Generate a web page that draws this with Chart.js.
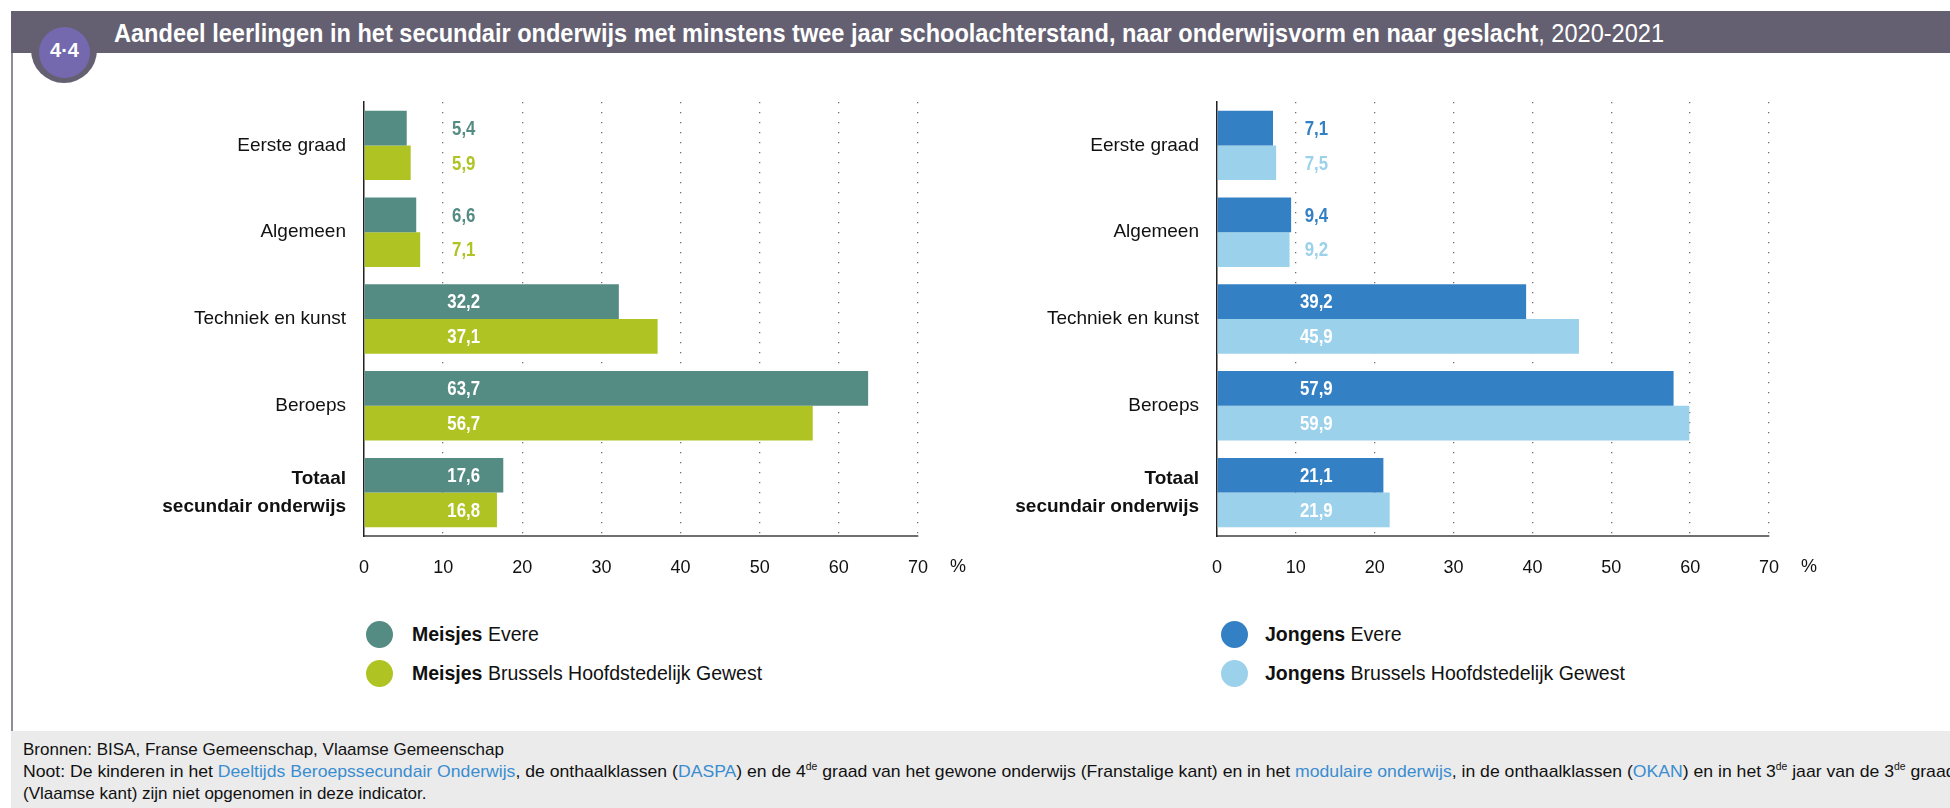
<!DOCTYPE html>
<html>
<head>
<meta charset="utf-8">
<script src="https://cdn.jsdelivr.net/npm/chart.js@4.4.1/dist/chart.umd.min.js"></script>
<style>
  html, body { margin:0; padding:0; background:#fff; }
  body { width:1950px; height:808px; position:relative; overflow:hidden; font-family:"Liberation Sans", Arial, sans-serif; }
  #header { position:absolute; left:11px; top:11px; width:1939px; height:42px; background:#646072; }
  #leftline { position:absolute; left:11px; top:53px; width:2px; height:678px; background:#8e8c9b; }
  #badgeOuter { position:absolute; left:31px; top:17px; width:66px; height:66px; border-radius:50%; background:#646072; }
  #badgeInner { position:absolute; left:39px; top:27px; width:51px; height:51px; border-radius:50%; background:#7468ae; }
  #badgeText { position:absolute; left:39px; top:27px; width:51px; height:46px; line-height:46px; text-align:center; color:#fff; font-weight:bold; font-size:20px; }
  #title { position:absolute; left:114px; top:16px; height:34px; line-height:34px; color:#fff; font-size:25px; white-space:nowrap; transform-origin:left center; }
  #title b { font-weight:bold; }
  canvas { position:absolute; top:0; }
  .legend { position:absolute; font-size:19.5px; color:#111; white-space:nowrap; }
  .legend .dot { position:absolute; width:27px; height:27px; border-radius:50%; }
  .legend .txt { position:absolute; white-space:nowrap; line-height:24px; }
  #footer { position:absolute; left:11px; top:731px; width:1939px; height:77px; background:#ebebeb; overflow:hidden; }
  #footer .line { position:absolute; left:12px; white-space:nowrap; font-size:17px; color:#111; transform-origin:left center; }
  #footer a { color:#3a8dd0; text-decoration:none; }
  #footer sup { font-size:10px; vertical-align:0; position:relative; top:-7px; }
</style>
</head>
<body>
<div id="header"></div>
<div id="leftline"></div>
<div id="badgeOuter"></div>
<div id="badgeInner"></div>
<div id="badgeText">4·4</div>
<div id="title"><b>Aandeel leerlingen in het secundair onderwijs met minstens twee jaar schoolachterstand, naar onderwijsvorm en naar geslacht</b>, 2020-2021</div>

<canvas id="left" width="975" height="600" style="left:0px"></canvas>
<canvas id="right" width="975" height="600" style="left:975px"></canvas>

<div class="legend" id="legL" style="left:0;top:0"></div>
<div class="legend" id="legR" style="left:0;top:0"></div>

<div id="footer">
  <div class="line" style="top:9px">Bronnen: BISA, Franse Gemeenschap, Vlaamse Gemeenschap</div>
  <div class="line" id="noot" style="top:31px">Noot: De kinderen in het <a>Deeltijds Beroepssecundair Onderwijs</a>, de onthaalklassen (<a>DASPA</a>) en de 4<sup>de</sup> graad van het gewone onderwijs (Franstalige kant) en in het <a>modulaire onderwijs</a>, in de onthaalklassen (<a>OKAN</a>) en in het 3<sup>de</sup> jaar van de 3<sup>de</sup> graad</div>
  <div class="line" style="top:53px">(Vlaamse kant) zijn niet opgenomen in deze indicator.</div>
</div>

<script>
// ---- data ----
const categories = ['Eerste graad', 'Algemeen', 'Techniek en kunst', 'Beroeps', ['Totaal', 'secundair onderwijs']];
const meisjesEvere = [5.4, 6.6, 32.2, 63.7, 17.6];
const meisjesBHG   = [5.9, 7.1, 37.1, 56.7, 16.8];
const jongensEvere = [7.1, 9.4, 39.2, 57.9, 21.1];
const jongensBHG   = [7.5, 9.2, 45.9, 59.9, 21.9];
const xTickValues  = [0, 10, 20, 30, 40, 50, 60, 70];
const legendLeft  = [['Meisjes', 'Evere'], ['Meisjes', 'Brussels Hoofdstedelijk Gewest']];
const legendRight = [['Jongens', 'Evere'], ['Jongens', 'Brussels Hoofdstedelijk Gewest']];

const COLORS = {
  meisjesEvere: '#548b83',
  meisjesBHG: '#afc423',
  jongensEvere: '#3480c4',
  jongensBHG: '#9cd1eb'
};

// title / footer width fit
(function(){
  const t = document.getElementById('title');
  t.style.transform = 'scaleX(' + (1550 / t.scrollWidth) + ')';
  const n = document.getElementById('noot');
  n.style.transform = 'scaleX(' + (1932 / n.scrollWidth) + ')';
})();

const fmt = v => v.toFixed(1).replace('.', ',');

const valueLabels = {
  id: 'valueLabels',
  afterDatasetsDraw(chart, args, opts) {
    const ctx = chart.ctx;
    const xs = chart.scales.x;
    const xPos = xs.getPixelForValue(opts.at);
    const sx = 0.8;
    ctx.save();
    ctx.font = 'bold 21px "Liberation Sans", Arial, sans-serif';
    ctx.textAlign = 'center';
    ctx.textBaseline = 'middle';
    chart.data.datasets.forEach((ds, di) => {
      const meta = chart.getDatasetMeta(di);
      meta.data.forEach((bar, i) => {
        const v = ds.data[i];
        ctx.fillStyle = v > opts.inside ? '#ffffff' : ds.backgroundColor;
        ctx.save();
        ctx.translate(xPos, bar.y + 1);
        ctx.scale(sx, 1);
        ctx.fillText(fmt(v), 0, 0);
        ctx.restore();
      });
    });
    // percent sign
    ctx.font = '18px "Liberation Sans", Arial, sans-serif';
    ctx.fillStyle = '#111';
    ctx.fillText('%', xs.getPixelForValue(70) + 40, chart.chartArea.bottom + 31);
    ctx.restore();
  }
};

function makeChart(id, d1, d2, c1, c2, axisW, rightPad) {
  return new Chart(document.getElementById(id), {
    type: 'bar',
    data: {
      labels: categories,
      datasets: [
        { data: d1, backgroundColor: c1, barPercentage: 1.0, categoryPercentage: 0.8 },
        { data: d2, backgroundColor: c2, barPercentage: 1.0, categoryPercentage: 0.8 }
      ]
    },
    options: {
      indexAxis: 'y',
      responsive: false,
      animation: false,
      devicePixelRatio: 1,
      layout: { padding: { top: 102, right: rightPad, left: 0, bottom: 0 } },
      plugins: {
        legend: { display: false },
        tooltip: { enabled: false },
        valueLabels: { at: 12.6, inside: 15 }
      },
      scales: {
        x: {
          type: 'linear',
          min: 0, max: 70,
          afterBuildTicks: s => { s.ticks = xTickValues.map(v => ({ value: v })); },
          afterFit: s => { s.height = 64; },
          grid: {
            drawTicks: false,
            color: c => c.index === 0 ? 'rgba(0,0,0,0)' : '#6f6f6f',
            lineWidth: 1.3
          },
          border: { display: true, color: '#6f6f6f', width: 2, dash: [1.3, 8.7] },
          ticks: {
            padding: 21,
            color: '#111',
            font: { family: '"Liberation Sans", Arial, sans-serif', size: 18 }
          }
        },
        y: {
          afterFit: s => { s.width = axisW; },
          grid: { display: false, drawTicks: false },
          border: { display: true, color: '#222', width: 1.5 },
          ticks: {
            padding: 18,
            color: '#111',
            font: c => ({ family: '"Liberation Sans", Arial, sans-serif', size: 19, weight: c.index === 4 ? 'bold' : 'normal', lineHeight: 1.45 })
          }
        }
      }
    },
    plugins: [valueLabels]
  });
}

makeChart('left', meisjesEvere, meisjesBHG, COLORS.meisjesEvere, COLORS.meisjesBHG, 364, 57);
makeChart('right', jongensEvere, jongensBHG, COLORS.jongensEvere, COLORS.jongensBHG, 242, 181);

function buildLegend(id, items, colors, dotCx, textX) {
  const el = document.getElementById(id);
  const ys = [634, 673];
  items.forEach((it, i) => {
    const dot = document.createElement('div');
    dot.className = 'dot';
    dot.style.background = colors[i];
    dot.style.left = (dotCx - 13.5) + 'px';
    dot.style.top = (ys[i] - 13.5) + 'px';
    el.appendChild(dot);
    const t = document.createElement('div');
    t.className = 'txt';
    t.style.left = textX + 'px';
    t.style.top = (ys[i] - 12) + 'px';
    t.innerHTML = '<b>' + it[0] + '</b> ' + it[1];
    el.appendChild(t);
  });
}
buildLegend('legL', legendLeft, [COLORS.meisjesEvere, COLORS.meisjesBHG], 379.5, 412);
buildLegend('legR', legendRight, [COLORS.jongensEvere, COLORS.jongensBHG], 1234, 1265);
</script>
</body>
</html>
